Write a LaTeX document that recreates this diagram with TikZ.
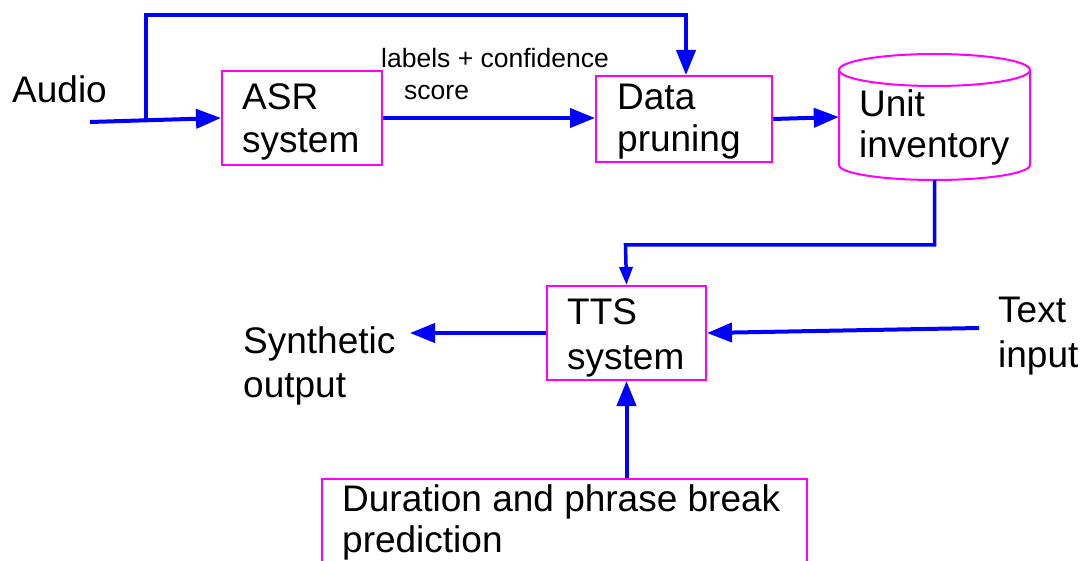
\documentclass[tikz,border=0pt]{standalone}
\usepackage{fontspec}
\setmainfont{Liberation Sans}
\usetikzlibrary{arrows.meta}
\definecolor{lnblue}{RGB}{0,0,255}
\definecolor{bxmag}{RGB}{255,0,255}
\begin{document}
\begin{tikzpicture}[x=1pt,y=-1pt,
  box/.style={draw=bxmag, line width=2pt, inner sep=0pt, anchor=north west},
  txt/.style={font=\fontsize{37}{42}\selectfont, inner sep=0pt, anchor=base west},
  smalltxt/.style={font=\fontsize{26.5}{32}\selectfont, inner sep=0pt, anchor=base west},
  plainline/.style={draw=lnblue, line width=4pt},
  conn/.style={draw=lnblue, line width=4pt, -{Triangle[length=25pt,width=19pt]}},
  thinconn/.style={draw=lnblue, line width=3.5pt, -{Triangle[length=18pt,width=13pt]}}]
\useasboundingbox (0,0) rectangle (1087,561);
\clip (0,0) rectangle (1087,561);

% boxes
\node[box, minimum width=160pt, minimum height=94pt] (asr) at (221,70) {};
\node[box, minimum width=176pt, minimum height=86pt] (prune) at (595,75) {};
\node[box, minimum width=159pt, minimum height=94pt] (tts) at (546,285) {};
\node[box, minimum width=485pt, minimum height=120pt] (dur) at (321,478) {};
\node[inner sep=0pt, minimum width=191pt, minimum height=126pt] (unit) at (934.5,117) {};
\draw[bxmag, line width=2pt] (839,70) -- (839,165)
  arc[start angle=180, end angle=360, x radius=95.5pt, y radius=15pt] -- (1030,70);
\draw[bxmag, line width=2pt] (934.5,70) ellipse[x radius=95.5pt, y radius=16pt];

% texts
\node[txt] (audio) at (12,103) {Audio};
\node[txt] (asr1) at (242,110) {ASR};
\node[txt] (asr2) at (242,153) {system};
\node[txt] (pr1) at (617,110) {Data};
\node[txt] (pr2) at (617,152) {pruning};
\node[txt] (un1) at (859,117) {Unit};
\node[txt] (un2) at (859,158) {inventory};
\node[txt] (tts1) at (567,324) {TTS};
\node[txt] (tts2) at (567,369) {system};
\node[txt] (syn1) at (243,353) {Synthetic};
\node[txt] (syn2) at (243,397) {output};
\node[txt] (tin1) at (998,323) {Text};
\node[txt] (tin2) at (998,367) {input};
\node[txt] (dur1) at (342,511) {Duration and phrase break};
\node[txt] (dur2) at (342,552) {prediction};
\node[smalltxt] (lab1) at (381,68) {labels + confidence};
\node[smalltxt] (lab2) at (404,100) {score};

% connectors
\coordinate (ain) at (90,122);
\coordinate (br) at (146,119.6);
\coordinate (topc) at (686,15);
\coordinate (jn) at (625.5,245);
\coordinate (synout) at (410,333);
\coordinate (txtin) at (979,328);
\draw[conn] (ain) -- (asr.west);
\draw[conn] (br) |- (topc) -- (prune.north -| topc);
\draw[conn] (asr.east) -- (asr.east -| prune.west);
\draw[conn] (prune.east) -- (unit.west);
\draw[thinconn] (unit.south) |- (jn) -- (tts.north);
\draw[conn] (tts.west) -- (synout);
\draw[conn] (txtin) -- (tts.east);
\draw[conn] (dur.north -| tts.south) -- (tts.south);
\end{tikzpicture}
\end{document}
